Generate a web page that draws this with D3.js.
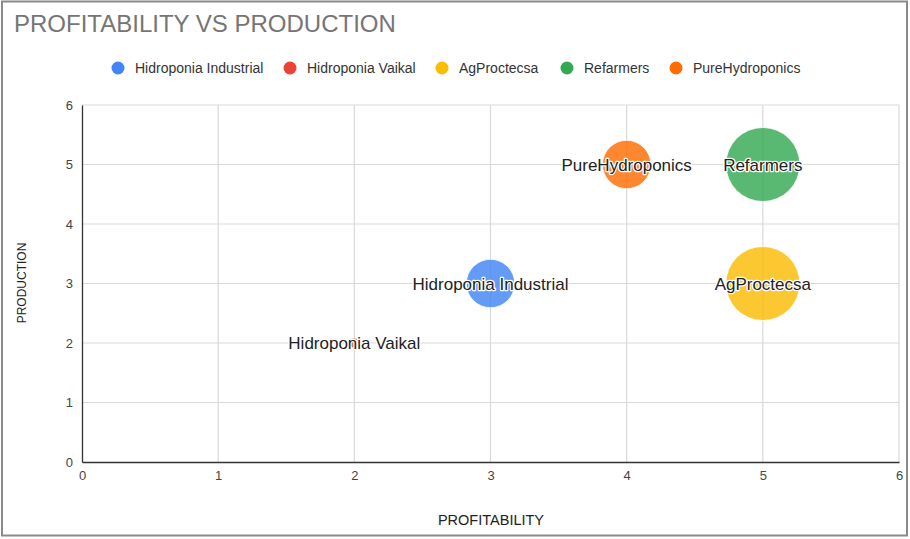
<!DOCTYPE html>
<html><head><meta charset="utf-8">
<script src="https://cdn.jsdelivr.net/npm/d3@7"></script>
<style>body{margin:0;background:#fff;}svg{display:block;font-family:"Liberation Sans",Arial,sans-serif;}</style>
</head><body><svg id="c" width="910" height="539"></svg>
<script>
const companies = ["Hidroponia Industrial","Hidroponia Vaikal","AgProctecsa","Refarmers","PureHydroponics"];
const profitability = [3,2,5,5,4];
const production = [3,2,3,5,5];
const sizes = [3,0,5,5,3];
const colors = ["#4285F4","#EA4335","#FBBC04","#34A853","#FF6D01"];
const xTicks = [0,1,2,3,4,5,6];
const yTicks = [0,1,2,3,4,5,6];

const svg = d3.select("#c");
const x = d3.scaleLinear().domain([0,6]).range([82,899]);
const y = d3.scaleLinear().domain([0,6]).range([462,105]);
const r = d3.scaleLinear().domain([0,5]).range([5,37]);

// outer border
svg.append("rect").attr("x",2).attr("y",1.5).attr("width",905).attr("height",534)
  .attr("fill","none").attr("stroke","#8a8a8a").attr("stroke-width",2);

// title
svg.append("text").attr("x",14).attr("y",32).attr("font-size",24).attr("fill","#757575")
  .text("PROFITABILITY VS PRODUCTION");

// legend
const legX = [118,290,442,567,676];
const leg = svg.append("g");
companies.forEach((c,i)=>{
  leg.append("circle").attr("cx",legX[i]).attr("cy",68).attr("r",6.5).attr("fill",colors[i]);
  leg.append("text").attr("x",legX[i]+17).attr("y",73).attr("font-size",14).attr("fill","#333").text(c);
});

// grid
const grid = svg.append("g");
xTicks.forEach(t=>{ if(t>0) grid.append("line").attr("x1",x(t)).attr("x2",x(t)).attr("y1",y(0)).attr("y2",y(6)).attr("stroke","#d9d9d9").attr("stroke-width",1.2); });
yTicks.forEach(t=>{ if(t>0) grid.append("line").attr("y1",y(t)).attr("y2",y(t)).attr("x1",x(0)).attr("x2",x(6)).attr("stroke","#d9d9d9").attr("stroke-width",1.2); });

// axes
const xAxis = svg.append("g").attr("transform",`translate(0,${y(0)})`)
  .call(d3.axisBottom(x).tickValues(xTicks).tickSize(0).tickPadding(9).tickFormat(d3.format("d")));
const yAxis = svg.append("g").attr("transform",`translate(${x(0)},0)`)
  .call(d3.axisLeft(y).tickValues(yTicks).tickSize(0).tickPadding(9).tickFormat(d3.format("d")));
[xAxis,yAxis].forEach(a=>{
  a.select(".domain").attr("stroke","#333").attr("stroke-width",1.3);
  a.selectAll("text").attr("font-size",13).attr("fill","#444").attr("font-family","Liberation Sans, Arial, sans-serif");
});

// axis titles
svg.append("text").attr("x",491).attr("y",525).attr("text-anchor","middle").attr("font-size",14.5).attr("fill","#222").text("PROFITABILITY");
svg.append("text").attr("transform",`translate(26,${283}) rotate(-90)`).attr("text-anchor","middle").attr("font-size",12).attr("fill","#222").text("PRODUCTION");

// bubbles
const idx = d3.range(companies.length).sort((a,b)=>sizes[b]-sizes[a]);
const bub = svg.append("g");
idx.forEach(i=>{
  bub.append("circle").attr("cx",x(profitability[i])).attr("cy",y(production[i])).attr("r",r(sizes[i]))
    .attr("fill",colors[i]).attr("fill-opacity",0.82).attr("stroke","#fff").attr("stroke-width",0.8);
});
idx.forEach(i=>{
  const t = bub.append("text").attr("x",x(profitability[i])).attr("y",y(production[i])+6)
    .attr("text-anchor","middle").attr("font-size",17).text(companies[i]);
  t.attr("fill","#222").attr("stroke","#fff").attr("stroke-width",2.5).attr("stroke-linejoin","round").attr("paint-order","stroke");
});
</script></body></html>
